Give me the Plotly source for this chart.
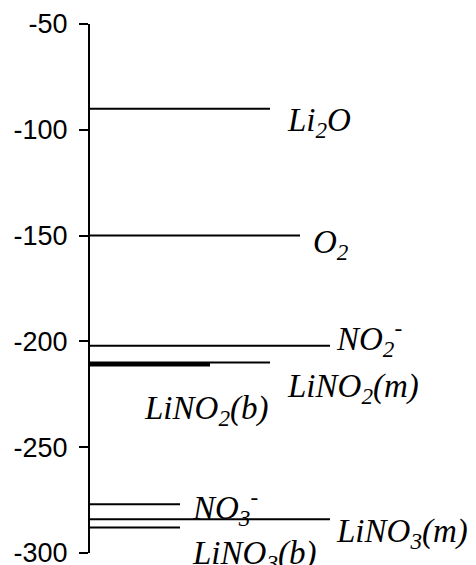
import plotly.graph_objects as go

species = ["Li<sub>2</sub>O", "O<sub>2</sub>", "NO<sub>2</sub><sup>-</sup>", "LiNO<sub>2</sub>(m)",
           "LiNO<sub>2</sub>(b)", "NO<sub>3</sub><sup>-</sup>", "LiNO<sub>3</sub>(m)", "LiNO<sub>3</sub>(b)"]
energies = [-90, -150, -202, -210, -211, -277, -284, -288]
line_ends = [6, 7, 8, 6, 4, 3, 8, 3]
line_widths = [2, 2, 2, 2, 3.5, 2, 2, 2]
label_dx = [15, 11, 4, 15, -68, 10, 4, 10]
label_dy = [-14, -9, 7, -26, -46, -3, -14, -28]
y_ticks = [-300, -250, -200, -150, -100, -50]
y_tick_text = ["-300", "-250", "-200", "-150", "-100", "-50"]

fig = go.Figure()
for name, e, xe, w in zip(species, energies, line_ends, line_widths):
    fig.add_trace(go.Scatter(x=[0, xe], y=[e, e], mode="lines",
                             line=dict(color="black", width=w),
                             showlegend=False, hoverinfo="skip", cliponaxis=False))

for name, e, xe, dx, dy in zip(species, energies, line_ends, label_dx, label_dy):
    fig.add_annotation(x=xe, y=e, text="<i>" + name + "</i>", showarrow=False,
                       xanchor="left", yanchor="middle", xshift=dx, yshift=dy,
                       font=dict(family="Liberation Serif", size=33, color="black"))

fig.update_layout(
    width=476, height=565,
    margin=dict(l=90, r=26, t=24, b=12, autoexpand=False),
    paper_bgcolor="white", plot_bgcolor="white",
    xaxis=dict(visible=False, range=[0, 12], fixedrange=True),
    yaxis=dict(range=[-300, -50], tickvals=y_ticks, ticktext=y_tick_text,
               showgrid=False, zeroline=False, automargin=False,
               showline=True, linecolor="black", linewidth=2,
               ticks="outside", ticklen=9, tickwidth=2, tickcolor="black",
               ticklabelstandoff=6, ticklabeloverflow="allow",
               tickfont=dict(family="Liberation Sans", size=27, color="black")),
)

fig.write_html("out.html", config={"displayModeBar": False},
               post_script="document.body.style.margin='0';document.body.style.overflow='hidden';")
